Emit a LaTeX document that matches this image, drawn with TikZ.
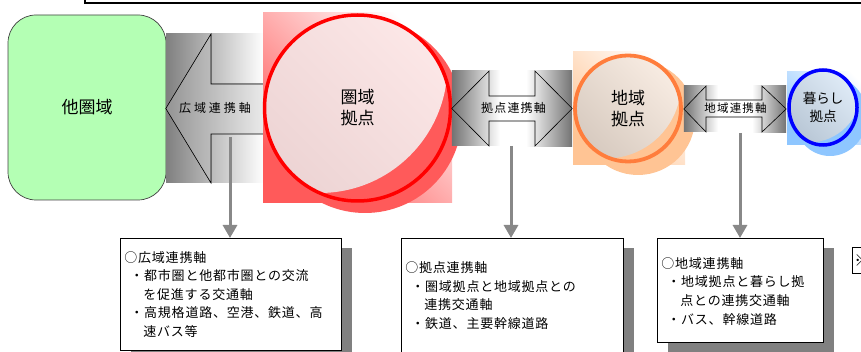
\documentclass[tikz,border=0pt]{standalone}
\usepackage{fontspec}
\setmainfont{Noto Sans CJK JP}
\newfontfamily\jpboxfont[LetterSpace=6]{Noto Sans CJK JP}
\newfontfamily\jpaxwide[LetterSpace=24]{Noto Sans CJK JP}
\newfontfamily\jpaxmid[LetterSpace=10]{Noto Sans CJK JP}
\usetikzlibrary{arrows.meta,shapes.geometric,shadows,calc}

\definecolor{gfill}{RGB}{180,255,180}
\definecolor{rbg}{RGB}{255,90,90}
\definecolor{pch}{RGB}{255,196,148}
\definecolor{lblue}{RGB}{142,198,255}
\definecolor{oline}{RGB}{255,125,60}
\definecolor{cgray}{RGB}{136,136,136}
\definecolor{sgray}{RGB}{128,128,128}

\begin{document}
\begin{tikzpicture}[x=1pt,y=-1pt,
  circlab/.style={font=\fontsize{17}{21}\selectfont, align=center, text=black},
  axlabwide/.style={font=\jpaxwide\fontsize{12}{14}\selectfont},
  axlabmid/.style={font=\jpaxmid\fontsize{11.5}{14}\selectfont},
  infobox/.style={draw=black, line width=0.8pt, fill=white, anchor=north west,
    align=left, inner xsep=4pt, inner ysep=0pt,
    font=\jpboxfont\fontsize{13}{18.6}\selectfont,
    drop shadow={shadow xshift=11pt, shadow yshift=-10pt, fill=sgray, opacity=1, draw=none}},
  conn/.style={draw=cgray, line width=3pt, -{Triangle[length=13pt,width=14pt]}},
  axisline/.style={draw=black, line width=0.6pt},
  fadebg/.style={top color=white, middle color=#1, bottom color=#1, shading angle=-45},
  litfill/.style n args={3}{top color=#1, middle color=#2, bottom color=#3, shading angle=-45},
]
\useasboundingbox (0,0) rectangle (861,352);

% top frame edge
\draw[line width=1.3pt] (85,-10) -- (85,3) -- (875,3);

% other region
\node[draw=black!75, line width=0.7pt, fill=gfill, rounded corners=28pt,
  minimum width=158pt, minimum height=185pt, inner sep=0,
  font=\fontsize{17}{21}\selectfont] (other) at (87,107.5) {他圏域};

% wide-area axis (left arrow)
\node[minimum width=98pt, minimum height=149pt, inner sep=0, draw=none,
  left color=black!50, right color=white] (wideBg) at (215,108.5) {};
\fill[left color=black!42, right color=black!8]
  (wideBg.west) -- (211,34) -- (211,84) -- (264,84) -- (264,134) -- (211,134) -- (211,183) -- cycle;
\draw[axisline] (264,84) -- (211,84) -- (211,34) -- (wideBg.west) -- (211,183) -- (211,134) -- (264,134);
\node[axlabwide] (wideLab) at (215,108) {広域連携軸};
\coordinate (wideFoot) at (230,137);

% ken-iki kyoten (red)
\coordinate (cR) at (357.5,108);
\shade[fadebg=rbg] (263,13) rectangle (452,203);
\fill[rbg] (365,116) circle (97);
\node[circle, draw=red, line width=3.5pt, minimum size=186pt, inner sep=0, circlab,
  path picture={
    \fill[rbg] (path picture bounding box.south west) rectangle (path picture bounding box.north east);
    \shade[litfill={red!8}{black!25!red!16}{black!45!red!18}]
      ($(path picture bounding box.center)+(-38,-43)$) circle (128);
  }] (kenIki) at (cR) {圏域\\拠点};

% kyoten axis (double arrow)
\node[minimum width=120pt, minimum height=75pt, inner sep=0, draw=none, fill=white] (kyotenBg) at (512,108.5) {};
\shade[left color=black!55, right color=white] (kyotenBg.north west) rectangle (500,146);
\shade[left color=white, right color=black!55] (526,71) rectangle (kyotenBg.south east);
\draw[axisline] (kyotenBg.west) -- (489,71) -- (489,96) -- (535,96) -- (535,71) -- (kyotenBg.east)
  -- (535,146) -- (535,121) -- (489,121) -- (489,146) -- cycle;
\node[axlabmid, font=\jpaxmid\fontsize{12}{14}\selectfont] (kyotenLab) at (513.5,108) {拠点連携軸};
\coordinate (kyotenFoot) at (511,146);

% chiiki kyoten (orange)
\coordinate (cO) at (628,108.5);
\shade[fadebg=pch] (573,52) rectangle (685,165);
\fill[pch] (638,118) circle (57);
\node[circle, draw=oline, line width=3.8pt, minimum size=106pt, inner sep=0, circlab,
  path picture={
    \fill[pch] (path picture bounding box.south west) rectangle (path picture bounding box.north east);
    \shade[litfill={pch!20}{black!25!pch!35}{black!45!pch!40}]
      ($(path picture bounding box.center)+(-22,-25)$) circle (75);
  }] (chiiki) at (cO) {地域\\拠点};

% chiiki axis (double arrow)
\node[minimum width=102pt, minimum height=46pt, inner sep=0, draw=none, fill=white] (chiikiBg) at (735,109) {};
\shade[left color=black!55, right color=white] (chiikiBg.north west) rectangle (718,132);
\shade[left color=white, right color=black!55] (752,86) rectangle (chiikiBg.south east);
\draw[axisline] (chiikiBg.west) -- (706,86) -- (706,100) -- (762,100) -- (762,86) -- (chiikiBg.east)
  -- (762,132) -- (762,117) -- (706,117) -- (706,132) -- cycle;
\node[axlabmid] (chiikiLab) at (735.5,108) {地域連携軸};
\coordinate (chiikiFoot) at (740,133);

% kurashi kyoten (blue)
\coordinate (cB) at (823,107.5);
\shade[fadebg=lblue] (787,72) rectangle (875,145);
\fill[lblue] (830,116) ellipse (37 and 40);
\node[ellipse, draw=blue, line width=3.5pt, minimum width=68pt, minimum height=75pt, inner sep=0,
  circlab, font=\fontsize{13.5}{18}\selectfont,
  path picture={
    \fill[lblue] (path picture bounding box.south west) rectangle (path picture bounding box.north east);
    \shade[litfill={lblue!20}{black!22!lblue!40}{black!42!lblue!45}]
      ($(path picture bounding box.center)+(-14,-17)$) circle (52);
  }] (kurashi) at (cB) {暮らし\\拠点};

% info boxes
\node[infobox, minimum width=221pt, minimum height=112pt, text width=213pt] (box1) at (120,238)
  {○広域連携軸\\
   \hspace*{6pt}・都市圏と他都市圏との交流\\
   \hspace*{19pt}を促進する交通軸\\
   \hspace*{6pt}・高規格道路、空港、鉄道、高\\
   \hspace*{19pt}速バス等};
\node[infobox, minimum width=222pt, minimum height=114pt, text width=214pt] (box2) at (401,238)
  {○拠点連携軸\\
   \hspace*{6pt}・圏域拠点と地域拠点との\\
   \hspace*{19pt}連携交通軸\\
   \hspace*{6pt}・鉄道、主要幹線道路};
\node[infobox, minimum width=166pt, minimum height=104pt, text width=158pt] (box3) at (657,238)
  {\\[-6pt]○地域連携軸\\
   \hspace*{6pt}・地域拠点と暮らし拠\\
   \hspace*{19pt}点との連携交通軸\\
   \hspace*{6pt}・バス、幹線道路};

% connectors
\draw[conn] (wideFoot) -- (wideFoot |- box1.north);
\draw[conn] (kyotenFoot) -- (kyotenFoot |- box2.north);
\draw[conn] (chiikiFoot) -- (chiikiFoot |- box3.north);

% partial note box at right edge
\node[draw=black, line width=0.8pt, anchor=north west, inner sep=2pt, minimum height=26pt,
  font=\fontsize{16}{16}\selectfont] (note) at (852,247) {※};
\end{tikzpicture}
\end{document}
